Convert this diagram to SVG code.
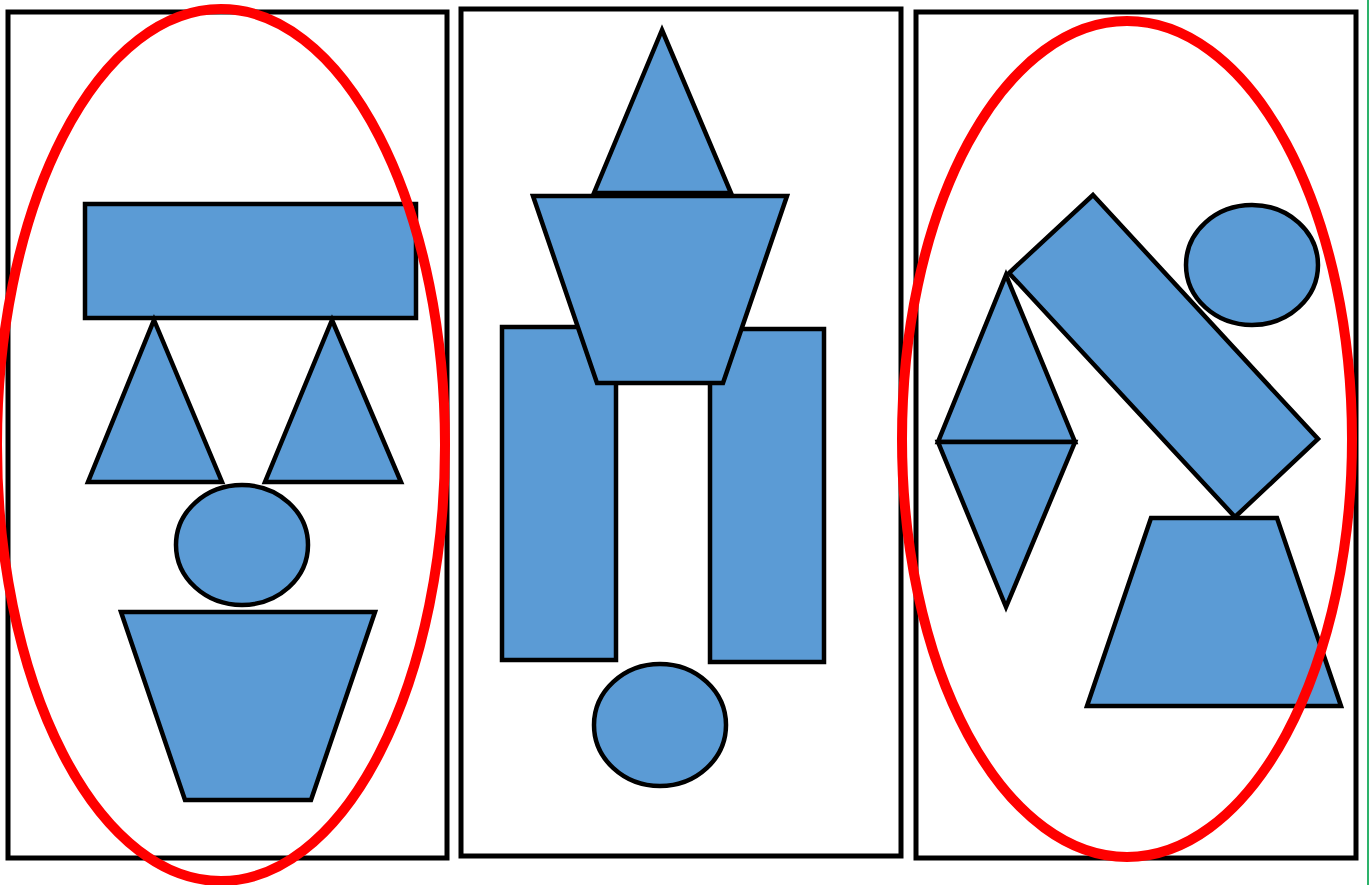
<svg xmlns="http://www.w3.org/2000/svg" width="1370" height="885" viewBox="0 0 1370 885">
<style>
.frame{fill:#fff;stroke:#000;stroke-width:5}
.s{fill:#5b9bd5;stroke:#000;stroke-width:4.5;stroke-linejoin:miter}
.ring{fill:none;stroke:#ff0000;stroke-width:10}
</style>
<rect width="1370" height="885" fill="#fff"/>
<line x1="1368" y1="0" x2="1368" y2="885" stroke="#2db36b" stroke-width="2"/>
<g id="panel1">
<rect class="frame" x="8" y="12" width="439" height="846"/>
<rect class="s" x="85" y="204" width="331" height="114"/>
<polygon class="s" points="154,320 222,482 88,482"/>
<polygon class="s" points="332,320 401,482 265,482"/>
<ellipse class="s" cx="242" cy="545" rx="66" ry="60"/>
<polygon class="s" points="121,612 375,612 311,800 185,800"/>
<ellipse class="ring" cx="221" cy="445" rx="224" ry="436"/>
</g>
<g id="panel2">
<rect class="frame" x="461" y="9" width="440" height="847"/>
<rect class="s" x="502" y="327" width="114" height="333"/>
<rect class="s" x="710" y="329" width="114" height="333"/>
<polygon class="s" points="662,30 731,193 594,193"/>
<polygon class="s" points="533,196 787,196 723,383 597,383"/>
<ellipse class="s" cx="660" cy="725" rx="66" ry="61"/>
</g>
<g id="panel3">
<rect class="frame" x="916" y="12" width="440" height="846"/>
<polygon class="s" points="1093,195 1318,439 1235,517 1009,273"/>
<ellipse class="s" cx="1252" cy="265" rx="66" ry="60"/>
<polygon class="s" points="1006,275 1075,442 938,442"/>
<polygon class="s" points="938,442 1075,442 1006,607"/>
<polygon class="s" points="1151,518 1277,518 1341,706 1087,706"/>
<ellipse class="ring" cx="1127" cy="439" rx="225" ry="418"/>
</g>
</svg>
